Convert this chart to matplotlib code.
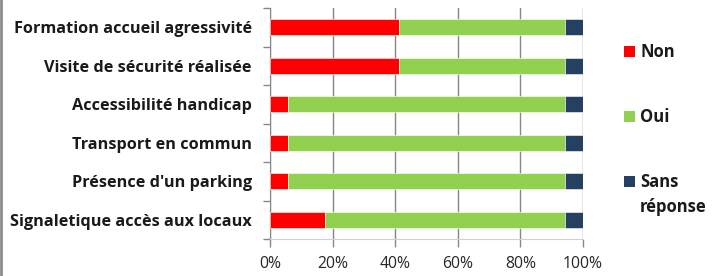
import numpy as np
import matplotlib.pyplot as plt
from matplotlib.lines import Line2D
from matplotlib.patches import Rectangle

# data (percent), top to bottom as in the chart
categories = ["Formation accueil agressivité",
              "Visite de sécurité réalisée",
              "Accessibilité handicap",
              "Transport en commun",
              "Présence d'un parking",
              "Signaletique accès aux locaux"]
non = [41.2, 41.2, 5.9, 5.9, 5.9, 17.6]
oui = [52.9, 52.9, 88.2, 88.2, 88.2, 76.5]
sans_reponse = [5.9, 5.9, 5.9, 5.9, 5.9, 5.9]
series_names = ["Non", "Oui", "Sans\nréponse"]
colors = ["#FF0000", "#92D050", "#254061"]

plt.rcParams['font.family'] = ['Open Sans', 'DejaVu Sans']

W, H = 724, 276
fig = plt.figure(figsize=(W / 100, H / 100), dpi=100)
ax = fig.add_axes([270/W, 1 - 239/H, 313/W, 231/H])

y = np.arange(len(categories))[::-1]
left = np.zeros(len(categories))
for vals, name, c in zip([non, oui, sans_reponse], series_names, colors):
    vals = np.array(vals)
    ax.barh(y, vals, left=left, height=0.42, color=c, label=name,
            edgecolor='white', linewidth=0.4, zorder=3)
    left += vals

ax.set_xlim(0, 100)
ax.set_ylim(-0.5, len(categories) - 0.5)
ax.set_xticks(np.arange(0, 101, 20))
ax.set_xticklabels([f"{v}%" for v in range(0, 101, 20)], fontsize=11.3, color='#262626')
ax.set_yticks(y)
ax.set_yticklabels(categories, fontsize=11.7, fontweight='bold', color='#1a1a1a')
ax.set_yticks(np.arange(-0.5, len(categories), 1), minor=True)
ax.tick_params(axis='y', which='major', length=0, pad=13)
ax.tick_params(axis='y', which='minor', length=5, color='#868686', width=1)
ax.tick_params(axis='x', length=6, color='#868686', width=1, pad=6)

ax.grid(axis='x', color='#868686', linewidth=1, zorder=0)
for s in ['top', 'right']:
    ax.spines[s].set_visible(False)
ax.spines['left'].set_color('#868686')
ax.spines['bottom'].set_color('#d0d0d0')

# legend on the right, drawn by hand so the marker sits on the first line
leg_top = [46, 111, 176]   # pixel rows of the square markers
line_px = 25
for top, name, c in zip(leg_top, series_names, colors):
    fig.add_artist(Rectangle((624/W, 1 - (top + 11)/H), 11/W, 11/H,
                             facecolor=c, edgecolor='none',
                             transform=fig.transFigure))
    n_extra = name.count("\n")
    fig.text(640/W, 1 - (top + 11 + n_extra * line_px)/H, name, fontsize=12,
             fontweight='bold', color='#1a1a1a', va='baseline', ha='left',
             linespacing=1.5)

# grey frame line on the left edge
fig.add_artist(Line2D([0.0015, 0.0015], [0, 1], color='#8c8c8c', linewidth=2,
                      transform=fig.transFigure))

fig.savefig("out.png", dpi=100)
